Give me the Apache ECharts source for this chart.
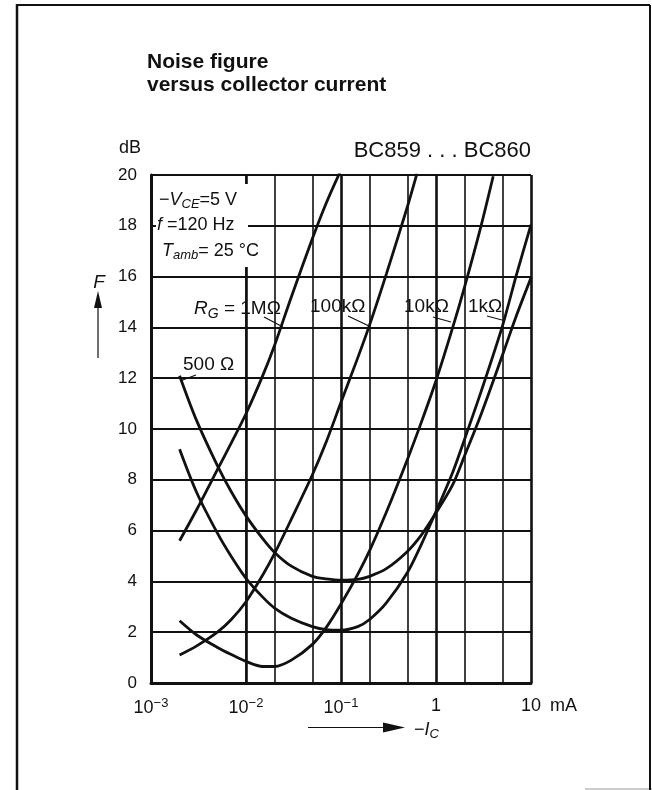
<!DOCTYPE html>
<html>
<head>
<meta charset="utf-8">
<script src="https://cdn.jsdelivr.net/npm/echarts@6/dist/echarts.min.js"></script>
<style>
  html, body { margin: 0; padding: 0; background: #fff; }
  #chart { width: 652px; height: 790px; }
</style>
</head>
<body>
<div id="chart"></div>
<script>
// noise figure F (dB) vs -Ic (mA), one list per source resistance
const rg1M   = [[0.002, 5.6], [0.003, 6.8], [0.005, 8.4], [0.007, 9.45], [0.01, 10.6], [0.015, 12.1], [0.02, 13.3],
                [0.03, 15.2], [0.05, 17.5], [0.07, 18.9], [0.1, 20.2]];
const rg100k = [[0.002, 1.1], [0.003, 1.45], [0.005, 2.0], [0.007, 2.5], [0.01, 3.2], [0.015, 4.25], [0.02, 5.1],
                [0.03, 6.45], [0.05, 8.2], [0.07, 9.5], [0.1, 11.05], [0.15, 12.8], [0.2, 14.1], [0.3, 16.1],
                [0.5, 18.75], [0.63, 20.05]];
const rg10k  = [[0.002, 2.45], [0.003, 1.9], [0.005, 1.4], [0.007, 1.12], [0.01, 0.85], [0.015, 0.65], [0.02, 0.65],
                [0.03, 0.9], [0.05, 1.52], [0.07, 2.19], [0.1, 3.11], [0.15, 4.28], [0.2, 5.21], [0.3, 6.72],
                [0.5, 8.8], [0.7, 10.26], [1, 11.9], [1.5, 14.0], [2, 15.6], [3, 18.04], [4, 19.95]];
const rg1k   = [[0.002, 9.2], [0.003, 7.53], [0.005, 5.9], [0.007, 4.98], [0.01, 4.12], [0.015, 3.38], [0.02, 2.95],
                [0.03, 2.55], [0.05, 2.22], [0.07, 2.1], [0.1, 2.08], [0.15, 2.22], [0.2, 2.5], [0.3, 3.15],
                [0.5, 4.35], [0.7, 5.45], [1, 6.75], [1.5, 8.3], [2, 9.6], [3, 11.5], [5, 14.05], [7, 16.05], [10, 18.05]];
const rg500  = [[0.002, 12.1], [0.003, 10.36], [0.005, 8.56], [0.007, 7.53], [0.01, 6.58], [0.015, 5.68], [0.02, 5.14],
                [0.03, 4.6], [0.05, 4.2], [0.07, 4.1], [0.1, 4.05], [0.15, 4.08], [0.2, 4.2], [0.3, 4.5],
                [0.5, 5.18], [0.7, 5.82], [1, 6.7], [1.5, 7.81], [2, 8.95], [3, 10.6], [5, 12.9], [7, 14.45], [10, 15.95]];

const minorLines = [0.002, 0.005, 0.02, 0.05, 0.2, 0.5, 2, 5];
const supLabels = { '-3': '10{s|−3}', '-2': '10{s|−2}', '-1': '10{s|−1}', '0': '1', '1': '10' };

const FONT = 'Liberation Sans';
const INK = '#111';

var chart = echarts.init(document.getElementById('chart'));

function curve(data, withGrid) {
    var s = {
        type: 'line',
        data: data,
        smooth: 0.3,
        showSymbol: false,
        silent: true,
        lineStyle: { color: INK, width: 2.8 },
        z: 5
    };
    if (withGrid) {
        s.markLine = {
            silent: true,
            symbol: 'none',
            label: { show: false },
            lineStyle: { color: INK, width: 1.6, type: 'solid' },
            data: minorLines.map(function (v) { return { xAxis: v }; }),
            z: 1
        };
    }
    return s;
}

function txt(x, y, text, opts) {
    return {
        type: 'text', x: x, y: y, z: 20,
        style: Object.assign({
            text: text, fill: INK, font: '19px ' + FONT,
            align: 'left', verticalAlign: 'middle'
        }, opts || {})
    };
}
function seg(x1, y1, x2, y2, w) {
    return { type: 'line', z: 20, shape: { x1: x1, y1: y1, x2: x2, y2: y2 }, style: { stroke: INK, lineWidth: w || 1.2 } };
}
function rich(size, sub) {
    return {
        i: { fontFamily: FONT, fontSize: size, fontStyle: 'italic', fill: INK },
        sub: { fontFamily: FONT, fontSize: sub, fontStyle: 'italic', fill: INK, padding: [Math.round(size * 0.5), 0, 0, 0] },
        n: { fontFamily: FONT, fontSize: size, fill: INK }
    };
}
const richCond = rich(18, 13);
const richLab = rich(19, 14);

var option = {
    backgroundColor: '#fff',
    animation: false,
    title: {
        text: 'Noise figure\nversus collector current',
        left: 147, top: 51, padding: 0,
        textStyle: { fontFamily: FONT, fontWeight: 'bold', fontSize: 21, lineHeight: 23, color: INK }
    },
    grid: { left: 151, right: 121, top: 175, bottom: 107 },
    xAxis: {
        type: 'log', logBase: 10, min: 0.001, max: 10,
        axisLine: { show: true, lineStyle: { color: INK, width: 3 } },
        axisTick: { show: false },
        splitLine: { show: true, lineStyle: { color: INK, width: 2.6 } },
        axisLabel: {
            color: INK, fontFamily: FONT, fontSize: 18, margin: 14,
            formatter: function (v) { return supLabels[String(Math.round(Math.log10(v)))] || ''; },
            rich: { s: { fontFamily: FONT, fontSize: 13, padding: [0, 0, 10, 0], color: INK } }
        }
    },
    yAxis: {
        type: 'value', min: 0, max: 20, interval: 2,
        axisLine: { show: true, lineStyle: { color: INK, width: 3 } },
        axisTick: { show: false },
        splitLine: { show: true, lineStyle: { color: INK, width: 1.8 } },
        axisLabel: { color: INK, fontFamily: FONT, fontSize: 17, margin: 14 }
    },
    series: [
        curve(rg1M, true),
        curve(rg100k),
        curve(rg10k),
        curve(rg1k),
        curve(rg500)
    ],
    graphic: [
        // page frame
        seg(17, 4, 17, 790, 2.5),
        seg(17, 5, 650, 5, 2),
        seg(650, 5, 650, 790, 2),
        { type: 'line', shape: { x1: 585, y1: 789, x2: 652, y2: 789 }, style: { stroke: '#bbb', lineWidth: 1.5 } },
        // conditions box
        { type: 'rect', z: 15, shape: { x: 156, y: 184, width: 92, height: 83 }, style: { fill: '#fff' } },
        {
            type: 'text', x: 159, y: 200, z: 20,
            style: { text: '{n|−}{i|V}{sub|CE}{n|=5 V}', rich: richCond, verticalAlign: 'middle' }
        },
        {
            type: 'text', x: 157, y: 225, z: 20,
            style: { text: '{i|f}{n| =120 Hz}', rich: richCond, verticalAlign: 'middle', backgroundColor: '#fff' }
        },
        {
            type: 'text', x: 162, y: 251, z: 20,
            style: { text: '{i|T}{sub|amb}{n|= 25 °C}', rich: richCond, verticalAlign: 'middle', backgroundColor: '#fff' }
        },
        // curve labels
        {
            type: 'text', x: 194, y: 309, z: 20,
            style: { text: '{i|R}{sub|G}{n| = 1MΩ}', rich: richLab, verticalAlign: 'middle' }
        },
        seg(264, 317, 283, 327),
        txt(310, 307, '100kΩ'),
        seg(348, 316, 369, 326),
        txt(404, 307, '10kΩ'),
        seg(433, 317, 451, 322),
        txt(468, 307, '1kΩ'),
        seg(487, 316, 502, 320),
        txt(183, 365, '500 Ω'),
        seg(196, 375, 180, 381),
        // headings and axis names
        txt(531, 151, 'BC859 . . . BC860', { font: '22px ' + FONT, align: 'right' }),
        txt(130, 148, 'dB', { font: '18px ' + FONT, align: 'center' }),
        txt(99, 283, 'F', { font: 'italic 19px ' + FONT, align: 'center' }),
        seg(98, 305, 98, 358, 1.2),
        { type: 'polygon', z: 20, shape: { points: [[98, 291], [94, 308], [102, 308]] }, style: { fill: INK } },
        txt(550, 706, 'mA', { font: '18px ' + FONT }),
        seg(308, 727.5, 390, 727.5, 1.2),
        { type: 'polygon', z: 20, shape: { points: [[405, 727.5], [383, 722.5], [383, 732.5]] }, style: { fill: INK } },
        {
            type: 'text', x: 414, y: 730, z: 20,
            style: { text: '{n|−}{i|I}{sub|C}', rich: richCond, verticalAlign: 'middle' }
        }
    ]
};
chart.setOption(option);

window.onresize = function () {
    chart.resize();
};
</script>
</body>
</html>
